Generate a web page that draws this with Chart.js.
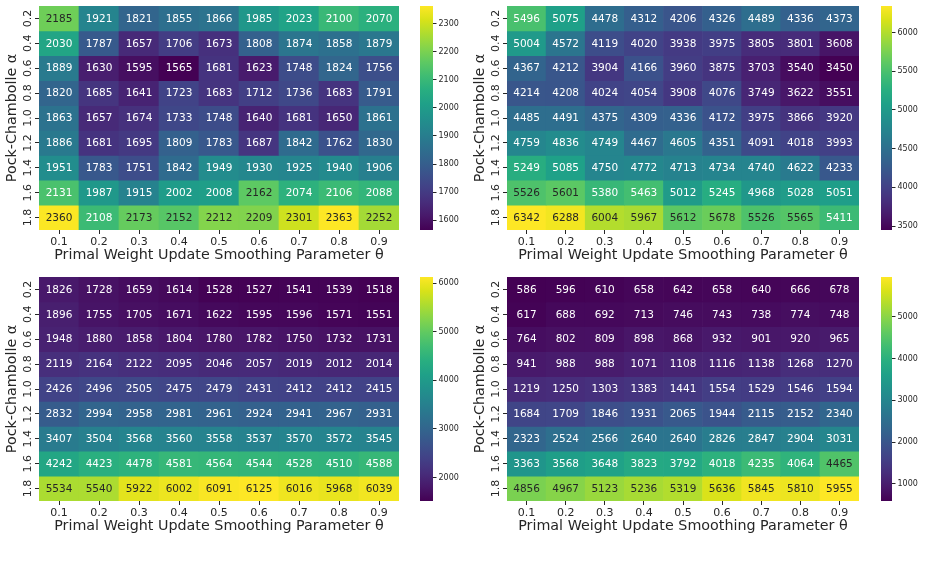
<!DOCTYPE html>
<html><head><meta charset="utf-8">
<script src="https://cdn.jsdelivr.net/npm/chart.js@4.4.1/dist/chart.umd.min.js"></script>
<style>
html,body{margin:0;padding:0;background:#fff;}
#wrap{position:relative;width:933px;height:564px;overflow:hidden;background:#fff;}
canvas{position:absolute;}
</style></head><body><div id="wrap"></div>
<script>
// ---- data ----
const thetaLabels = ['0.1','0.2','0.3','0.4','0.5','0.6','0.7','0.8','0.9'];
const alphaLabels = ['0.2','0.4','0.6','0.8','1.0','1.2','1.4','1.6','1.8'];

const valuesA = [
  [2185,1921,1821,1855,1866,1985,2023,2100,2070],
  [2030,1787,1657,1706,1673,1808,1874,1858,1879],
  [1889,1630,1595,1565,1681,1623,1748,1824,1756],
  [1820,1685,1641,1723,1683,1712,1736,1683,1791],
  [1863,1657,1674,1733,1748,1640,1681,1650,1861],
  [1886,1681,1695,1809,1783,1687,1842,1762,1830],
  [1951,1783,1751,1842,1949,1930,1925,1940,1906],
  [2131,1987,1915,2002,2008,2162,2074,2106,2088],
  [2360,2108,2173,2152,2212,2209,2301,2363,2252]
];
const valuesB = [
  [5496,5075,4478,4312,4206,4326,4489,4336,4373],
  [5004,4572,4119,4020,3938,3975,3805,3801,3608],
  [4367,4212,3904,4166,3960,3875,3703,3540,3450],
  [4214,4208,4024,4054,3908,4076,3749,3622,3551],
  [4485,4491,4375,4309,4336,4172,3975,3866,3920],
  [4759,4836,4749,4467,4605,4351,4091,4018,3993],
  [5249,5085,4750,4772,4713,4734,4740,4622,4233],
  [5526,5601,5380,5463,5012,5245,4968,5028,5051],
  [6342,6288,6004,5967,5612,5678,5526,5565,5411]
];
const valuesC = [
  [1826,1728,1659,1614,1528,1527,1541,1539,1518],
  [1896,1755,1705,1671,1622,1595,1596,1571,1551],
  [1948,1880,1858,1804,1780,1782,1750,1732,1731],
  [2119,2164,2122,2095,2046,2057,2019,2012,2014],
  [2426,2496,2505,2475,2479,2431,2412,2412,2415],
  [2832,2994,2958,2981,2961,2924,2941,2967,2931],
  [3407,3504,3568,3560,3558,3537,3570,3572,3545],
  [4242,4423,4478,4581,4564,4544,4528,4510,4588],
  [5534,5540,5922,6002,6091,6125,6016,5968,6039]
];
const valuesD = [
  [586,596,610,658,642,658,640,666,678],
  [617,688,692,713,746,743,738,774,748],
  [764,802,809,898,868,932,901,920,965],
  [941,988,988,1071,1108,1116,1138,1268,1270],
  [1219,1250,1303,1383,1441,1554,1529,1546,1594],
  [1684,1709,1846,1931,2065,1944,2115,2152,2340],
  [2323,2524,2566,2640,2640,2826,2847,2904,3031],
  [3363,3568,3648,3823,3792,4018,4235,4064,4465],
  [4856,4967,5123,5236,5319,5636,5845,5810,5955]
];
const cbTicksA = [1600,1700,1800,1900,2000,2100,2200,2300];
const cbTicksB = [3500,4000,4500,5000,5500,6000];
const cbTicksC = [2000,3000,4000,5000,6000];
const cbTicksD = [1000,2000,3000,4000,5000];

const xTitle = 'Primal Weight Update Smoothing Parameter θ';
const yTitle = 'Pock-Chambolle α';

// ---- colormap ----
const VIRIDIS = ['#440154','#48186a','#472d7b','#424086','#3b528b','#33638d','#2c728e','#26828e',
  '#21918c','#1fa088','#28ae80','#3fbc73','#5ec962','#84d44b','#addc30','#d8e219','#fde725'];
function hex2rgb(h){return [1,3,5].map(i=>parseInt(h.substr(i,2),16));}
function viridis(t){
  t=Math.max(0,Math.min(1,t));
  const n=VIRIDIS.length-1, f=t*n, i=Math.min(Math.floor(f),n-1), u=f-i;
  const a=hex2rgb(VIRIDIS[i]), b=hex2rgb(VIRIDIS[i+1]);
  return a.map((x,k)=>Math.round(x+(b[k]-x)*u));
}
function luminance(rgb){
  const l=rgb.map(c=>{c/=255;return c<=0.03928?c/12.92:Math.pow((c+0.055)/1.055,2.4);});
  return 0.2126*l[0]+0.7152*l[1]+0.0722*l[2];
}
const DARK='#262626';
Chart.defaults.font.family="'DejaVu Sans', sans-serif";
Chart.defaults.color=DARK;
Chart.defaults.animation=false;

const cellLabels={
  id:'cellLabels',
  afterDatasetsDraw(chart){
    const ctx=chart.ctx;
    ctx.save();
    ctx.font="10.5px 'DejaVu Sans'";
    ctx.textAlign='center';ctx.textBaseline='middle';
    chart.data.datasets.forEach((ds,r)=>{
      if(!ds.cellValues) return;
      chart.getDatasetMeta(r).data.forEach((bar,c)=>{
        ctx.fillStyle=ds.textColors[c];
        ctx.fillText(String(ds.cellValues[c]),bar.x,(bar.y+bar.base)/2+0.5);
      });
    });
    ctx.restore();
  }
};

const wrap=document.getElementById('wrap');
function addCanvas(left,top,w,h){
  const c=document.createElement('canvas');
  c.width=w;c.height=h;c.style.left=left+'px';c.style.top=top+'px';
  c.style.width=w+'px';c.style.height=h+'px';
  wrap.appendChild(c);return c;
}

const PH=264;
function drawPanel(values,cbTicks,left,top,hmWidth,cbLeft,cbWidth,cbCanvasW){
  const flat=values.flat();
  const vmin=Math.min(...flat), vmax=Math.max(...flat);
  const datasets=values.map(row=>{
    const rgbs=row.map(v=>viridis((v-vmin)/(vmax-vmin)));
    return {
      data:row.map(()=>1),
      cellValues:row,
      backgroundColor:rgbs.map(c=>`rgb(${c[0]},${c[1]},${c[2]})`),
      textColors:rgbs.map(c=>luminance(c)>0.408?DARK:'#ffffff'),
      borderWidth:0,barPercentage:1,categoryPercentage:1
    };
  });
  new Chart(addCanvas(left,top,hmWidth,PH),{
    type:'bar',
    data:{labels:thetaLabels,datasets},
    plugins:[cellLabels],
    options:{
      responsive:false,animation:false,
      layout:{padding:{top:6,left:0,right:0,bottom:0}},
      plugins:{legend:{display:false},tooltip:{enabled:false}},
      scales:{
        x:{type:'category',stacked:true,offset:true,
          grid:{offset:false,drawOnChartArea:false,tickLength:4,color:DARK},
          border:{display:false},
          ticks:{font:{size:11},padding:2,maxRotation:0,autoSkip:false,color:DARK},
          afterFit:s=>{s.height=34;},
          title:{display:true,text:xTitle,font:{size:14.3},color:DARK,padding:{top:0,bottom:0}}},
        y:{type:'linear',min:0,max:9,reverse:true,stacked:true,
          afterBuildTicks:s=>{s.ticks=alphaLabels.map((_,i)=>({value:i+0.5}));},
          afterFit:s=>{s.width=39;},
          ticks:{minRotation:90,maxRotation:90,crossAlign:'center',padding:-2,font:{size:11},color:DARK,
            autoSkip:false,callback:(v,i)=>alphaLabels[i]},
          grid:{drawOnChartArea:false,tickLength:4,color:DARK},
          border:{display:false},
          title:{display:true,text:yTitle,font:{size:14.3},color:DARK,padding:{top:4,bottom:0}}}
      }
    }
  });
  new Chart(addCanvas(cbLeft,top,cbCanvasW,PH),{
    type:'bar',
    data:{labels:[''],datasets:[{
      data:[[vmin,vmax]],borderWidth:0,barPercentage:1,categoryPercentage:1,
      backgroundColor:(ctx)=>{
        const ca=ctx.chart.chartArea; if(!ca) return 'transparent';
        const g=ctx.chart.ctx.createLinearGradient(0,ca.bottom,0,ca.top);
        VIRIDIS.forEach((c,i)=>g.addColorStop(i/(VIRIDIS.length-1),c));
        return g;
      }}]},
    options:{
      responsive:false,animation:false,
      layout:{padding:{top:6,left:0,right:0,bottom:34}},
      plugins:{legend:{display:false},tooltip:{enabled:false}},
      scales:{
        x:{display:false},
        y:{position:'right',min:vmin,max:vmax,
          afterBuildTicks:s=>{s.ticks=cbTicks.map(v=>({value:v}));},
          afterFit:s=>{s.width=cbCanvasW-cbWidth;},
          ticks:{font:{size:8,lineHeight:1},padding:2,color:DARK,callback:v=>String(v)},
          grid:{drawOnChartArea:false,tickLength:3.5,color:DARK},
          border:{display:false}}
      }
    }
  });
}

drawPanel(valuesA,cbTicksA,0,0,399,420,13,60);
drawPanel(valuesB,cbTicksB,468,0,391,881,11,52);
drawPanel(valuesC,cbTicksC,0,271,399,420,13,60);
drawPanel(valuesD,cbTicksD,468,271,391,881,11,52);
</script>
</body></html>
